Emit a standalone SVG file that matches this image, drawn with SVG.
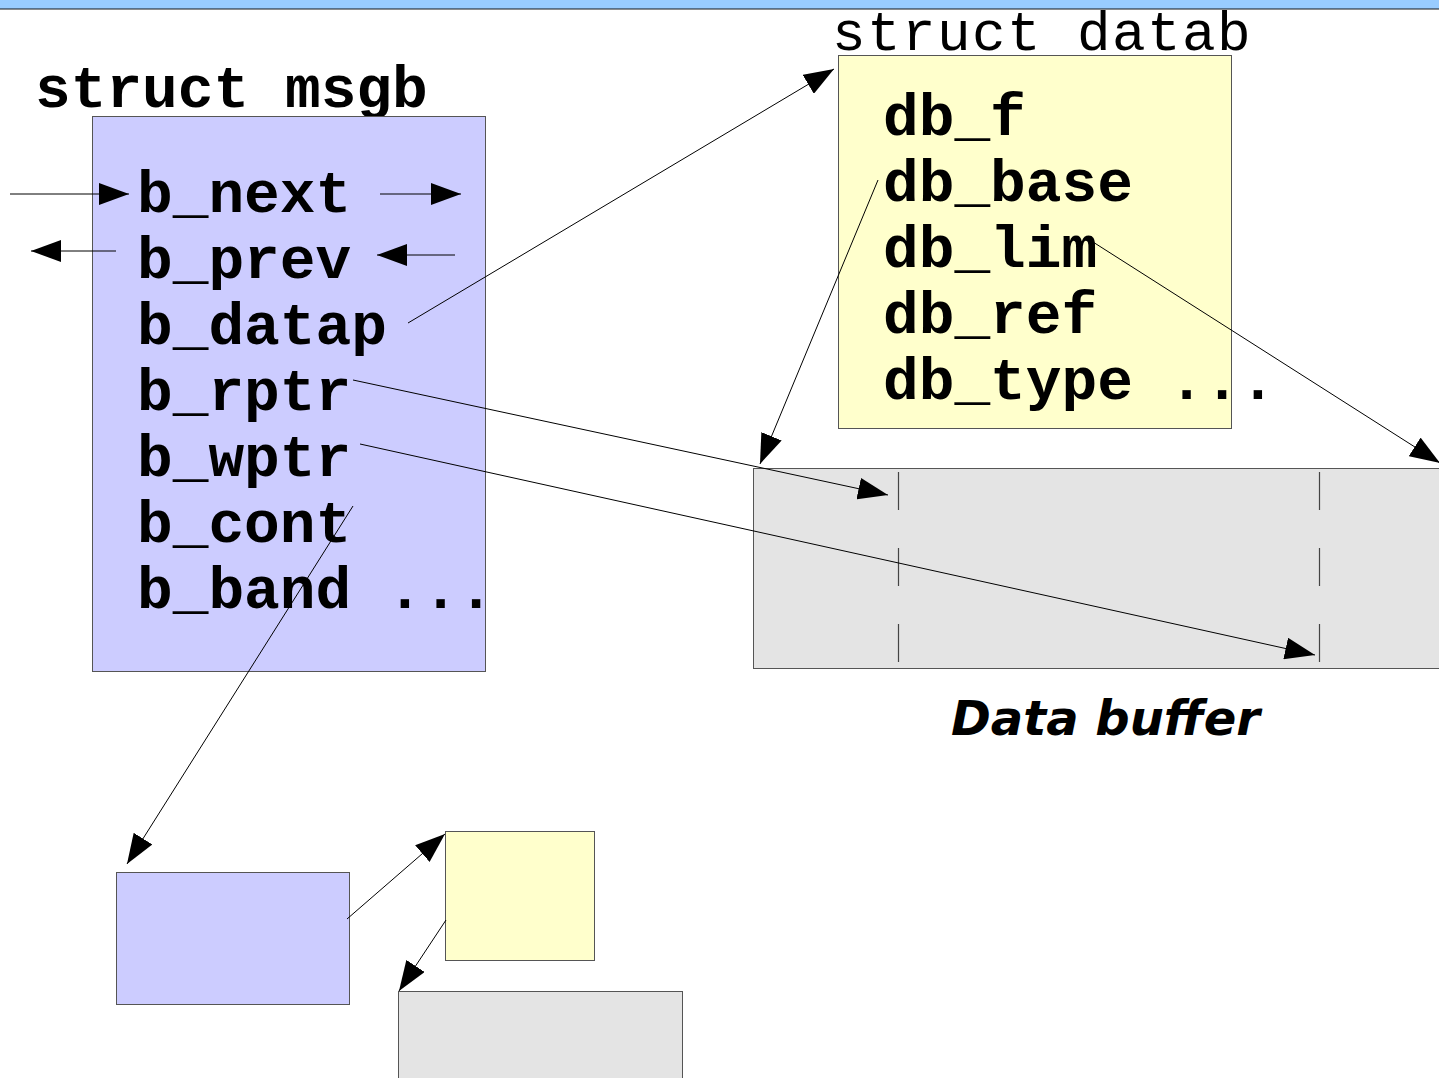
<svg xmlns="http://www.w3.org/2000/svg" width="1439" height="1078" viewBox="0 0 1439 1078">
<style>
.mono{font-family:"Liberation Mono","Courier New",monospace;font-size:59.5px;fill:#000}
.b{font-weight:bold}
.box{stroke:#555;stroke-width:1}
.ln{stroke:#000;stroke-width:1;fill:none}
.dash{stroke:#444;stroke-width:1.2;stroke-dasharray:38 38}
</style>
<defs>
<marker id="ah" viewBox="0 0 30 22" refX="30" refY="11" markerWidth="30" markerHeight="22" markerUnits="userSpaceOnUse" orient="auto">
<path d="M0,0 L30,11 L0,22 z" fill="#000"/>
</marker>
</defs>
<rect x="0" y="0" width="1439" height="1078" fill="#fff"/>
<rect x="0" y="0" width="1439" height="8" fill="#99ccff"/>
<line x1="0" y1="8.5" x2="1439" y2="8.5" stroke="#55708c" stroke-width="1"/>
<line x1="0" y1="9.5" x2="1439" y2="9.5" stroke="#8a8a8a" stroke-width="1"/>

<g id="msgb">
<text class="mono b" x="35" y="107">struct msgb</text>
<rect class="box" x="92.5" y="116.5" width="393" height="555" fill="#ccccff"/>
<text class="mono b" x="137" y="212">b_next</text>
<text class="mono b" x="137" y="278">b_prev</text>
<text class="mono b" x="137" y="344">b_datap</text>
<text class="mono b" x="137" y="410">b_rptr</text>
<text class="mono b" x="137" y="476">b_wptr</text>
<text class="mono b" x="137" y="542">b_cont</text>
<text class="mono b" x="137" y="608">b_band ...</text>
</g>

<g id="datab">
<text class="mono" x="832" y="50" style="font-size:56px;letter-spacing:1.4px">struct datab</text>
<rect class="box" x="838.5" y="55.5" width="393" height="373" fill="#ffffcc"/>
<text class="mono b" x="883" y="135">db_f</text>
<text class="mono b" x="883" y="201">db_base</text>
<text class="mono b" x="883" y="267">db_lim</text>
<text class="mono b" x="883" y="333">db_ref</text>
<text class="mono b" x="883" y="399">db_type ...</text>
</g>

<g id="databuffer">
<rect class="box" x="753.5" y="468.5" width="700" height="200" fill="#e4e4e4"/>
<line class="dash" x1="898.5" y1="472" x2="898.5" y2="664"/>
<line class="dash" x1="1319.5" y1="472" x2="1319.5" y2="664"/>
<text x="951" y="735" font-family="'DejaVu Sans',Verdana,sans-serif" font-weight="bold" font-style="italic" font-size="48" fill="#000">Data buffer</text>
</g>

<g id="msgb2">
<rect class="box" x="116.5" y="872.5" width="233" height="132" fill="#ccccff"/>
</g>
<g id="datab2">
<rect class="box" x="445.5" y="831.5" width="149" height="129" fill="#ffffcc"/>
</g>
<g id="databuffer2">
<rect class="box" x="398.5" y="991.5" width="284" height="100" fill="#e4e4e4"/>
</g>

<g id="connectors">
<line class="ln" x1="10" y1="194" x2="129" y2="194" marker-end="url(#ah)"/>
<line class="ln" x1="380" y1="194" x2="461" y2="194" marker-end="url(#ah)"/>
<line class="ln" x1="116" y1="251" x2="31" y2="251" marker-end="url(#ah)"/>
<line class="ln" x1="455" y1="255" x2="377" y2="255" marker-end="url(#ah)"/>
<line class="ln" x1="408" y1="323" x2="834" y2="69" marker-end="url(#ah)"/>
<line class="ln" x1="878" y1="180" x2="760" y2="464" marker-end="url(#ah)"/>
<line class="ln" x1="1093" y1="242" x2="1440" y2="463" marker-end="url(#ah)"/>
<line class="ln" x1="353" y1="380" x2="888" y2="495" marker-end="url(#ah)"/>
<line class="ln" x1="360" y1="444" x2="1315" y2="655" marker-end="url(#ah)"/>
<line class="ln" x1="353" y1="506" x2="127" y2="864" marker-end="url(#ah)"/>
<line class="ln" x1="347" y1="919" x2="445" y2="834" marker-end="url(#ah)"/>
<line class="ln" x1="446" y1="920" x2="399" y2="991" marker-end="url(#ah)"/>
</g>
</svg>
